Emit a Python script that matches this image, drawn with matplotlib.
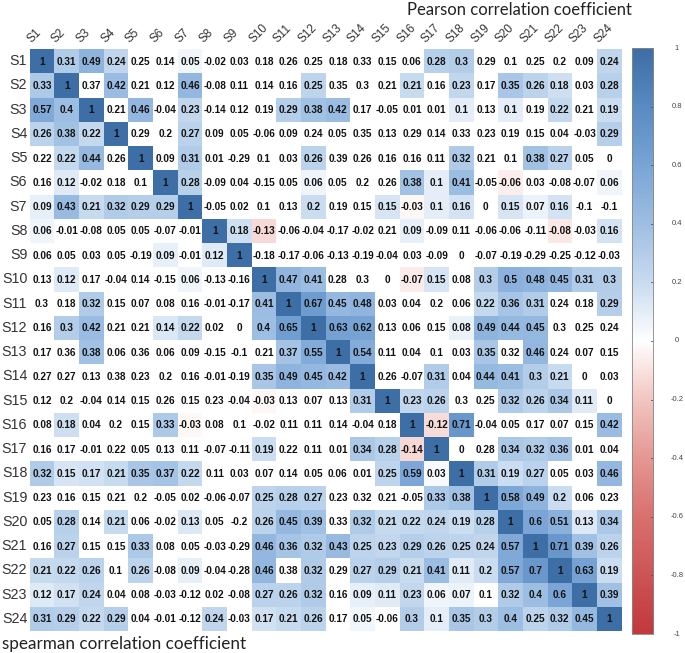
import numpy as np
import matplotlib
matplotlib.use("Agg")
import matplotlib.pyplot as plt
from matplotlib.colors import LinearSegmentedColormap, Normalize

labels = [f"S{i}" for i in range(1, 25)]

# rows: lower triangle = Spearman, upper triangle = Pearson
r_S1 = [1, 0.31, 0.49, 0.24, 0.25, 0.14, 0.05, -0.02, 0.03, 0.18, 0.26, 0.25, 0.18, 0.33, 0.15, 0.06, 0.28, 0.3, 0.29, 0.1, 0.25, 0.2, 0.09, 0.24]
r_S2 = [0.33, 1, 0.37, 0.42, 0.21, 0.12, 0.46, -0.08, 0.11, 0.14, 0.16, 0.25, 0.35, 0.3, 0.21, 0.21, 0.16, 0.23, 0.17, 0.35, 0.26, 0.18, 0.03, 0.28]
r_S3 = [0.57, 0.4, 1, 0.21, 0.46, -0.04, 0.23, -0.14, 0.12, 0.19, 0.29, 0.38, 0.42, 0.17, -0.05, 0.01, 0.01, 0.1, 0.13, 0.1, 0.19, 0.22, 0.21, 0.19]
r_S4 = [0.26, 0.38, 0.22, 1, 0.29, 0.2, 0.27, 0.09, 0.05, -0.06, 0.09, 0.24, 0.05, 0.35, 0.13, 0.29, 0.14, 0.33, 0.23, 0.19, 0.15, 0.04, -0.03, 0.29]
r_S5 = [0.22, 0.22, 0.44, 0.26, 1, 0.09, 0.31, 0.01, -0.29, 0.1, 0.03, 0.26, 0.39, 0.26, 0.16, 0.16, 0.11, 0.32, 0.21, 0.1, 0.38, 0.27, 0.05, 0]
r_S6 = [0.16, 0.12, -0.02, 0.18, 0.1, 1, 0.28, -0.09, 0.04, -0.15, 0.05, 0.06, 0.05, 0.2, 0.26, 0.38, 0.1, 0.41, -0.05, -0.06, 0.03, -0.08, -0.07, 0.06]
r_S7 = [0.09, 0.43, 0.21, 0.32, 0.29, 0.29, 1, -0.05, 0.02, 0.1, 0.13, 0.2, 0.19, 0.15, 0.15, -0.03, 0.1, 0.16, 0, 0.15, 0.07, 0.16, -0.1, -0.1]
r_S8 = [0.06, -0.01, -0.08, 0.05, 0.05, -0.07, -0.01, 1, 0.18, -0.13, -0.06, -0.04, -0.17, -0.02, 0.21, 0.09, -0.09, 0.11, -0.06, -0.06, -0.11, -0.08, -0.03, 0.16]
r_S9 = [0.06, 0.05, 0.03, 0.05, -0.19, 0.09, -0.01, 0.12, 1, -0.18, -0.17, -0.06, -0.13, -0.19, -0.04, 0.03, -0.09, 0, -0.07, -0.19, -0.29, -0.25, -0.12, -0.03]
r_S10 = [0.13, 0.12, 0.17, -0.04, 0.14, -0.15, 0.06, -0.13, -0.16, 1, 0.47, 0.41, 0.28, 0.3, 0, -0.07, 0.15, 0.08, 0.3, 0.5, 0.48, 0.45, 0.31, 0.3]
r_S11 = [0.3, 0.18, 0.32, 0.15, 0.07, 0.08, 0.16, -0.01, -0.17, 0.41, 1, 0.67, 0.45, 0.48, 0.03, 0.04, 0.2, 0.06, 0.22, 0.36, 0.31, 0.24, 0.18, 0.29]
r_S12 = [0.16, 0.3, 0.42, 0.21, 0.21, 0.14, 0.22, 0.02, 0, 0.4, 0.65, 1, 0.63, 0.62, 0.13, 0.06, 0.15, 0.08, 0.49, 0.44, 0.45, 0.3, 0.25, 0.24]
r_S13 = [0.17, 0.36, 0.38, 0.06, 0.36, 0.06, 0.09, -0.15, -0.1, 0.21, 0.37, 0.55, 1, 0.54, 0.11, 0.04, 0.1, 0.03, 0.35, 0.32, 0.46, 0.24, 0.07, 0.15]
r_S14 = [0.27, 0.27, 0.13, 0.38, 0.23, 0.2, 0.16, -0.01, -0.19, 0.35, 0.49, 0.45, 0.42, 1, 0.26, -0.07, 0.31, 0.04, 0.44, 0.41, 0.3, 0.21, 0, 0.03]
r_S15 = [0.12, 0.2, -0.04, 0.14, 0.15, 0.26, 0.15, 0.23, -0.04, -0.03, 0.13, 0.07, 0.13, 0.31, 1, 0.23, 0.26, 0.3, 0.25, 0.32, 0.26, 0.34, 0.11, 0]
r_S16 = [0.08, 0.18, 0.04, 0.2, 0.15, 0.33, -0.03, 0.08, 0.1, -0.02, 0.11, 0.11, 0.14, -0.04, 0.18, 1, -0.12, 0.71, -0.04, 0.05, 0.17, 0.07, 0.15, 0.42]
r_S17 = [0.16, 0.17, -0.01, 0.22, 0.05, 0.13, 0.11, -0.07, -0.11, 0.19, 0.22, 0.11, 0.01, 0.34, 0.28, -0.14, 1, 0, 0.28, 0.34, 0.32, 0.36, 0.01, 0.04]
r_S18 = [0.32, 0.15, 0.17, 0.21, 0.35, 0.37, 0.22, 0.11, 0.03, 0.07, 0.14, 0.05, 0.06, 0.01, 0.25, 0.59, 0.03, 1, 0.31, 0.19, 0.27, 0.05, 0.03, 0.46]
r_S19 = [0.23, 0.16, 0.15, 0.21, 0.2, -0.05, 0.02, -0.06, -0.07, 0.25, 0.28, 0.27, 0.23, 0.32, 0.21, -0.05, 0.33, 0.38, 1, 0.58, 0.49, 0.2, 0.06, 0.23]
r_S20 = [0.05, 0.28, 0.14, 0.21, 0.06, -0.02, 0.13, 0.05, -0.2, 0.26, 0.45, 0.39, 0.33, 0.32, 0.21, 0.22, 0.24, 0.19, 0.28, 1, 0.6, 0.51, 0.13, 0.34]
r_S21 = [0.16, 0.27, 0.15, 0.15, 0.33, 0.08, 0.05, -0.03, -0.29, 0.46, 0.36, 0.32, 0.43, 0.25, 0.23, 0.29, 0.26, 0.25, 0.24, 0.57, 1, 0.71, 0.39, 0.26]
r_S22 = [0.21, 0.22, 0.26, 0.1, 0.26, -0.08, 0.09, -0.04, -0.28, 0.46, 0.38, 0.32, 0.29, 0.27, 0.29, 0.21, 0.41, 0.11, 0.2, 0.57, 0.7, 1, 0.63, 0.19]
r_S23 = [0.12, 0.17, 0.24, 0.04, 0.08, -0.03, -0.12, 0.02, -0.08, 0.27, 0.26, 0.32, 0.16, 0.09, 0.11, 0.23, 0.06, 0.07, 0.1, 0.32, 0.4, 0.6, 1, 0.39]
r_S24 = [0.31, 0.29, 0.22, 0.29, 0.04, -0.01, -0.12, 0.24, -0.03, 0.17, 0.21, 0.26, 0.17, 0.05, -0.06, 0.3, 0.1, 0.35, 0.3, 0.4, 0.25, 0.32, 0.45, 1]

# columns (1-based) whose cell is shaded in each row (the others are left white)
shaded = {
    1: [1, 2, 3, 4, 7, 17, 18, 24],
    2: [1, 2, 4, 7, 12, 16, 18, 20, 21, 22, 24],
    3: [1, 2, 3, 5, 7, 11, 12, 13, 18, 20, 22, 24],
    4: [1, 2, 3, 4, 7, 24],
    5: [2, 3, 5, 7, 12, 18, 21, 22],
    6: [2, 6, 7, 12, 16, 17, 18, 20, 24],
    7: [1, 2, 3, 4, 5, 6, 7, 12, 15, 16, 17, 18, 20, 21, 22],
    8: [1, 8, 9, 10, 16, 22, 24],
    9: [6, 8, 9],
    10: [2, 7, 10, 11, 12, 16, 17, 19, 20, 21, 22, 23, 24],
    11: [3, 10, 11, 12, 13, 14, 19, 20, 21, 24],
    12: [2, 3, 6, 7, 10, 11, 12, 13, 14, 18, 19, 20, 21],
    13: [3, 11, 12, 13, 14, 19, 21],
    14: [10, 11, 12, 13, 14, 17, 19, 20, 21, 22],
    15: [10, 14, 15, 16, 17, 20, 21, 22, 23],
    16: [2, 6, 7, 16, 17, 18, 24],
    17: [10, 14, 15, 16, 17, 20, 21, 22],
    18: [1, 2, 3, 4, 5, 6, 7, 15, 16, 17, 18, 19, 20, 21, 24],
    19: [10, 11, 12, 17, 18, 19, 20, 21, 22],
    20: [2, 4, 7, 10, 11, 12, 14, 15, 16, 17, 18, 19, 20, 21, 22, 23, 24],
    21: [2, 5, 10, 11, 12, 13, 14, 15, 16, 17, 18, 19, 20, 21, 22, 23, 24],
    22: [1, 2, 3, 5, 7, 10, 12, 14, 15, 16, 17, 18, 19, 20, 21, 22, 23, 24],
    23: [1, 2, 3, 10, 11, 12, 14, 15, 16, 17, 18, 20, 21, 22, 23, 24],
    24: [1, 2, 3, 4, 8, 10, 11, 12, 14, 16, 17, 18, 19, 20, 21, 22, 23, 24],
}

top_title = "Pearson correlation coefficient"
bottom_title = "spearman correlation coefficient"
cbar_ticks = [1, 0.8, 0.6, 0.4, 0.2, 0, -0.2, -0.4, -0.6, -0.8, -1]

rows = [r_S1, r_S2, r_S3, r_S4, r_S5, r_S6, r_S7, r_S8, r_S9, r_S10, r_S11, r_S12,
        r_S13, r_S14, r_S15, r_S16, r_S17, r_S18, r_S19, r_S20, r_S21, r_S22, r_S23, r_S24]
M = np.array(rows, dtype=float)
n = len(labels)
mask = np.zeros_like(M, dtype=bool)
for r, cols in shaded.items():
    for c in cols:
        mask[r - 1, c - 1] = True

cmap = LinearSegmentedColormap.from_list(
    "corr",
    [(0.0, "#c2393c"), (0.2, "#d9716f"), (0.3, "#e59892"), (0.4, "#f2c6c1"),
     (0.5, "#ffffff"), (0.6, "#c9dcf0"), (0.7, "#9ebfe3"), (0.8, "#7aa5d6"),
     (0.9, "#5a8bc3"), (1.0, "#3d6ea6")])
norm = Normalize(vmin=-1, vmax=1)

W, H = 685, 653
fig = plt.figure(figsize=(W / 100, H / 100), dpi=100)

x0, x1 = 29.7, 621.5
y0, y1 = 49, 631
ax = fig.add_axes([x0 / W, 1 - y1 / H, (x1 - x0) / W, (y1 - y0) / H])
data = np.ma.masked_where(~mask, M)
ax.set_facecolor("white")
ax.pcolormesh(np.arange(n + 1), np.arange(n + 1), data, cmap=cmap, norm=norm,
              edgecolors="none", antialiased=False)
ax.set_xlim(0, n)
ax.set_ylim(n, 0)
for s in ax.spines.values():
    s.set_visible(False)
ax.set_xticks([])
ax.set_yticks([])

for i in range(n):
    for j in range(n):
        v = M[i, j]
        txt = "1" if v == 1 else f"{v:g}"
        ax.text(j + 0.5, i + 0.52, txt, ha="center", va="center",
                fontsize=7.2, fontweight="bold", color="#111111",
                family="Liberation Sans")

for i, lab in enumerate(labels):
    ax.text(-0.1, i + 0.5, lab, ha="right", va="center", fontsize=10.3,
            color="#333333", family="Liberation Sans")
    ax.text(i + 0.15, -0.15, lab, ha="left", va="bottom", rotation=45,
            rotation_mode="anchor", fontsize=8.5, color="#333333",
            family="Liberation Sans")

# colorbar
cx0, cx1, cy0, cy1 = 631.7, 653.3, 48, 634
cax = fig.add_axes([cx0 / W, 1 - cy1 / H, (cx1 - cx0) / W, (cy1 - cy0) / H])
grad = np.linspace(-1, 1, 400).reshape(-1, 1)
cax.imshow(grad, aspect="auto", cmap=cmap, norm=norm, origin="lower",
           extent=[0, 1, -1, 1])
cax.set_xlim(0, 1)
cax.set_ylim(-1, 1)
cax.set_xticks([])
cax.set_yticks([])
for s in cax.spines.values():
    s.set_color("#888888")
    s.set_linewidth(0.6)
for t in cbar_ticks:
    cax.plot([0.88, 1.0], [t, t], color="#555555", lw=0.6)
    cax.text(2.1, t, f"{t:g}", ha="center", va="center", fontsize=5.5,
             color="#444444", family="Liberation Sans", clip_on=False)

fig.text(632 / W, 1 - 10 / H, top_title, ha="right", va="center",
         fontsize=12, color="#222222", family="Lato")
fig.text(2 / W, 1 - 644 / H, bottom_title, ha="left", va="center",
         fontsize=12.3, color="#222222", family="Lato")

fig.savefig("out.png", dpi=100)
